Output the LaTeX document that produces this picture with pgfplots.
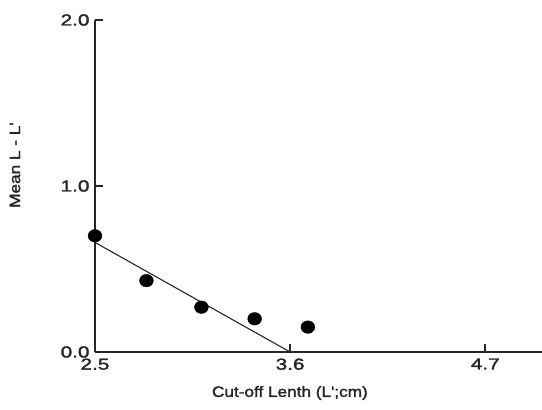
\documentclass[border=0pt]{standalone}
\usepackage{pgfplots}
\pgfplotsset{compat=1.18}
\usepackage{fontspec}
\setmainfont{Liberation Sans}
\newfontfamily\chartfont[FakeStretch=1.15,FakeBold=2]{Liberation Sans}
\newfontfamily\tickfont[FakeStretch=1.3,FakeBold=2]{Liberation Sans}

\begin{document}
\begin{tikzpicture}
\begin{axis}[
    scale only axis,
    width=447bp, height=332bp,
    xmin=2.5, xmax=5.02,
    ymin=0, ymax=2,
    axis x line=bottom, axis y line=left,
    axis line style={-, line width=1.8bp, black!85},
    xtick={2.5,3.6,4.7}, ytick={1,2},
    extra y ticks={0}, extra y tick style={major tick length=0pt},
    tick align=inside, major tick length=8bp,
    tick style={line width=1.5bp, black!85},
    xticklabel style={yshift=-3bp},
    yticklabel style={xshift=-2bp},
    /pgf/number format/.cd, fixed, fixed zerofill, precision=1,
    assume math mode=true,
    /pgfplots/.cd,
    tick label style={font=\tickfont\fontsize{16}{18}\selectfont, black!85},
    label style={font=\chartfont\fontsize{15}{17}\selectfont, black!85},
    xlabel={Cut-off Lenth (L';cm)},
    ylabel={Mean L - L'},
    xlabel style={at={(axis description cs:0.436,-0.1235)}, anchor=center},
    ylabel style={at={(axis description cs:-0.179,0.563)}, anchor=center},
    clip=false,
]
% fitted line
\addplot[line width=1.1bp, black!85, no marks] coordinates {(2.5,0.66) (3.6,0.0)};
% mean values
\addplot[only marks, mark=*, mark size=6.3bp, black, mark options={xscale=1.1}] coordinates {
(2.5,0.70) (2.79,0.43) (3.10,0.27) (3.40,0.20) (3.70,0.15)
};
\end{axis}
\pgfresetboundingbox
\path (-95bp,-58bp) rectangle (447bp,352bp);
\end{tikzpicture}
\end{document}
